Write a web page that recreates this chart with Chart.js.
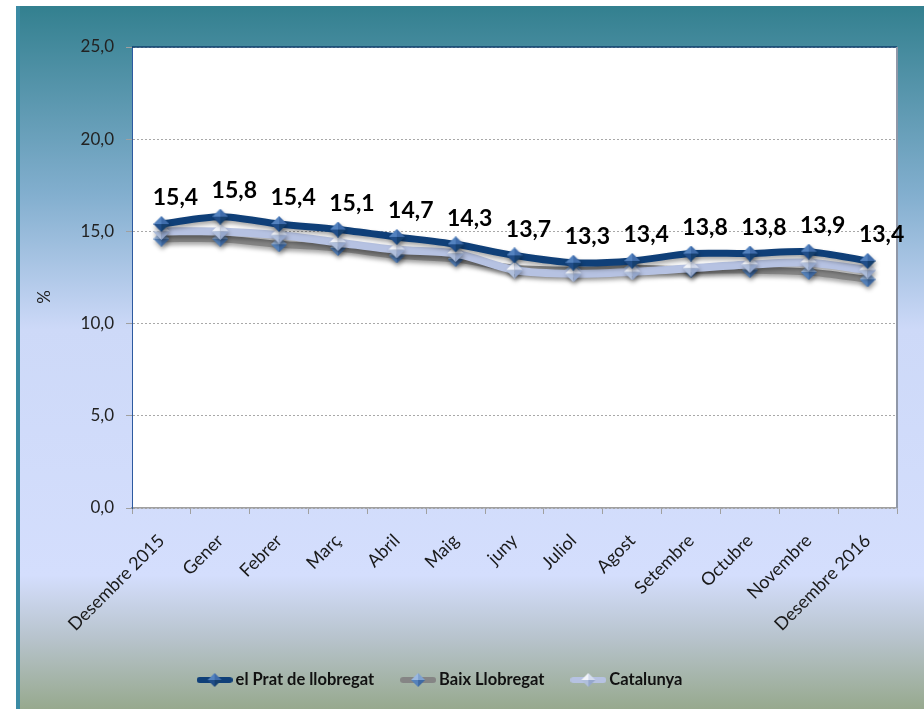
<!DOCTYPE html>
<html>
<head>
<meta charset="utf-8">
<script src="https://cdn.jsdelivr.net/npm/chart.js@4.4.0/dist/chart.umd.min.js"></script>
<style>
  html, body { margin: 0; padding: 0; background: #fff; }
</style>
</head>
<body>
<canvas id="chart" width="924" height="709"></canvas>
<script>
// data
const months = ['Desembre 2015', 'Gener', 'Febrer', 'Març', 'Abril', 'Maig', 'juny',
                'Juliol', 'Agost', 'Setembre', 'Octubre', 'Novembre', 'Desembre 2016'];
const pratValues = [15.4, 15.8, 15.4, 15.1, 14.7, 14.3, 13.7, 13.3, 13.4, 13.8, 13.8, 13.9, 13.4];
const baixValues = [14.6, 14.6, 14.3, 14.1, 13.7, 13.5, 13.0, 12.9, 13.0, 12.9, 12.9, 12.8, 12.4];
const catValues  = [15.0, 15.0, 14.8, 14.4, 14.0, 13.8, 12.9, 12.7, 12.8, 13.0, 13.2, 13.3, 12.9];
const seriesNames = ['el Prat de llobregat', 'Baix Llobregat', 'Catalunya'];
const yMin = 0, yMax = 25, yStep = 5;

const fmt = v => v.toFixed(1).replace('.', ',');

// little 3D looking diamond markers
function diamond(size, facets) {
  const c = document.createElement('canvas');
  c.width = size; c.height = size;
  const x = c.getContext('2d');
  const m = size / 2;
  const pts = [[m, 0], [size, m], [m, size], [0, m]];
  // facets: top-left, top-right, bottom-right, bottom-left
  const tris = [[pts[3], pts[0]], [pts[0], pts[1]], [pts[1], pts[2]], [pts[2], pts[3]]];
  tris.forEach((t, i) => {
    x.beginPath();
    x.moveTo(m, m);
    x.lineTo(t[0][0], t[0][1]);
    x.lineTo(t[1][0], t[1][1]);
    x.closePath();
    x.fillStyle = facets[i];
    x.fill();
  });
  return c;
}

function legendIcon(lineColor, marker) {
  const c = document.createElement('canvas');
  c.width = 36; c.height = 16;
  const x = c.getContext('2d');
  x.strokeStyle = lineColor;
  x.lineWidth = 6;
  x.lineCap = 'round';
  x.beginPath();
  x.moveTo(3, 8); x.lineTo(33, 8);
  x.stroke();
  x.drawImage(marker, 18 - marker.width / 2, 8 - marker.height / 2);
  return c;
}

const facetSets = [
  ['#5382bf', '#3f6cab', '#16406f', '#204d88'],
  ['#9ab8e0', '#7ea1cf', '#3f6aa4', '#5582bb'],
  ['#f2f4fa', '#d4dcee', '#95a7cc', '#b0bfdc']
];
const markers = [diamond(16, facetSets[0]), diamond(16, facetSets[1]), diamond(17, facetSets[2])];
const lineColors = ['#0f3f78', '#858585', '#b6c2e2'];
const legendIcons = lineColors.map((c, i) => legendIcon(c, diamond(14, facetSets[i])));

// background, plot area, borders, value labels and legend
const framePlugin = {
  id: 'frame',
  beforeDraw(chart) {
    const { ctx, chartArea: a, width, height } = chart;
    ctx.save();
    ctx.fillStyle = '#fff';
    ctx.fillRect(0, 0, width, height);
    const g = ctx.createLinearGradient(0, 6, 0, height);
    g.addColorStop(0, '#33808f');
    g.addColorStop(0.27, '#83afcf');
    g.addColorStop(0.46, '#cdd9f8');
    g.addColorStop(0.81, '#d4defd');
    g.addColorStop(0.9, '#b7c3cc');
    g.addColorStop(1, '#97a98e');
    ctx.fillStyle = g;
    ctx.fillRect(16, 6, width - 16, height - 6);
    ctx.fillStyle = '#3b8ba4';
    ctx.fillRect(16, 6, 4, height - 6);
    ctx.fillStyle = '#fff';
    ctx.fillRect(a.left, a.top, a.width, a.height);
    ctx.restore();
  },
  beforeDatasetsDraw(chart) {
    const { ctx, chartArea: a } = chart;
    ctx.save();
    ctx.strokeStyle = '#0f3f6e';
    ctx.lineWidth = 1.5;
    ctx.beginPath();
    ctx.moveTo(a.left, a.top); ctx.lineTo(a.right, a.top);
    ctx.stroke();
    ctx.strokeStyle = '#9098a8';
    ctx.lineWidth = 2;
    ctx.beginPath();
    ctx.moveTo(a.right, a.top); ctx.lineTo(a.right, a.bottom);
    ctx.stroke();
    ctx.restore();
  },
  beforeDatasetDraw(chart) {
    const ctx = chart.ctx;
    ctx.save();
    ctx.shadowColor = 'rgba(0,0,0,0.35)';
    ctx.shadowBlur = 4;
    ctx.shadowOffsetY = 3;
    ctx.shadowOffsetX = 1;
  },
  afterDatasetDraw(chart) {
    chart.ctx.restore();
  },
  afterDatasetsDraw(chart) {
    // value labels for el Prat
    const { ctx } = chart;
    const meta = chart.getDatasetMeta(0);
    ctx.save();
    ctx.font = 'bold 23px Lato';
    ctx.fillStyle = '#000';
    ctx.textAlign = 'center';
    ctx.textBaseline = 'middle';
    meta.data.forEach((pt, i) => {
      ctx.fillText(fmt(pratValues[i]), pt.x + 14, pt.y - 26);
    });
    ctx.restore();
  },
  afterDraw(chart) {
    const { ctx } = chart;
    // axis title, a bit below the middle like the original
    ctx.save();
    ctx.translate(45, 297);
    ctx.rotate(-Math.PI / 2);
    ctx.font = '17px Lato';
    ctx.fillStyle = '#222';
    ctx.textAlign = 'center';
    ctx.textBaseline = 'middle';
    ctx.fillText('%', 0, 0);
    ctx.restore();

    // legend under the axis labels
    const ds = chart.data.datasets;
    ctx.save();
    ctx.font = 'bold 16.5px Lato';
    ctx.fillStyle = '#111';
    ctx.textBaseline = 'middle';
    const iconGap = 3, itemGap = 26;
    const widths = ds.map((d, i) => legendIcons[i].width + iconGap + ctx.measureText(d.label).width);
    const total = widths.reduce((s, w) => s + w, 0) + itemGap * (ds.length - 1);
    const cx = (chart.chartArea.left + chart.chartArea.right) / 2 - 75;
    const cy = chart.height - 29;
    let x = cx - total / 2;
    ds.forEach((d, i) => {
      const icon = legendIcons[i];
      ctx.drawImage(icon, x, cy - icon.height / 2);
      ctx.fillText(d.label, x + icon.width + iconGap, cy);
      x += widths[i] + itemGap;
    });
    ctx.restore();
  }
};

new Chart(document.getElementById('chart'), {
  type: 'line',
  data: {
    labels: months,
    datasets: [
      { label: seriesNames[0], data: pratValues, order: 0 },
      { label: seriesNames[1], data: baixValues, order: 2 },
      { label: seriesNames[2], data: catValues, order: 1 }
    ].map((d, i) => Object.assign(d, {
      borderColor: lineColors[i],
      borderWidth: i === 2 ? 8 : 7,
      tension: 0.3,
      pointStyle: markers[i],
      pointRadius: 8,
      fill: false
    }))
  },
  options: {
    responsive: false,
    animation: false,
    events: [],
    layout: { padding: { left: 16, right: 27, top: 47, bottom: 11 } },
    plugins: {
      tooltip: { enabled: false },
      legend: { display: false }
    },
    scales: {
      x: {
        offset: true,
        afterFit: s => { s.height = 190; },
        grid: {
          offset: true,
          drawOnChartArea: false,
          tickLength: 6,
          tickColor: '#a0a0a0'
        },
        border: { color: '#a0a0a0', width: 1.5 },
        ticks: {
          autoSkip: false,
          minRotation: 45,
          maxRotation: 45,
          padding: 16,
          color: '#1a1a1a',
          font: { family: 'Lato', size: 18 }
        }
      },
      y: {
        min: yMin,
        max: yMax,
        afterFit: s => { s.width = 116; },
        grid: {
          color: '#a8a8a8',
          lineWidth: 1,
          borderDash: [6, 4],
          tickBorderDash: [],
          tickLength: 6,
          tickColor: '#a0a0a0'
        },
        border: { color: '#2d5aa0', width: 1, dash: [2, 2] },
        ticks: {
          stepSize: yStep,
          padding: 12,
          color: '#222',
          font: { family: 'Lato', size: 17 },
          callback: v => fmt(v)
        }
      }
    }
  },
  plugins: [framePlugin]
});
</script>
</body>
</html>
